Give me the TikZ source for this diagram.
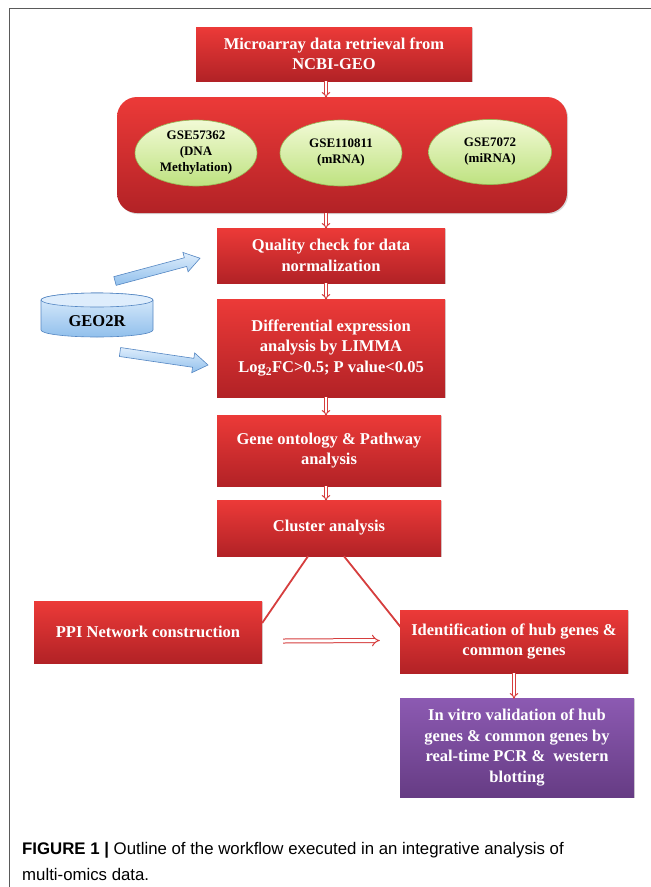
\documentclass[tikz,border=0pt]{standalone}
\usepackage{fontspec}
\setmainfont{Liberation Serif}
\setsansfont{Liberation Sans}
\usetikzlibrary{shadows,arrows.meta,calc,shapes.geometric}
\definecolor{redtop}{RGB}{236,58,56}
\definecolor{redbot}{RGB}{178,34,38}
\definecolor{purtop}{RGB}{140,90,178}
\definecolor{purbot}{RGB}{102,60,132}
\definecolor{grntop}{RGB}{242,250,214}
\definecolor{grnbot}{RGB}{190,226,128}
\definecolor{grnedge}{RGB}{150,185,85}
\definecolor{blutop}{RGB}{222,237,252}
\definecolor{blubot}{RGB}{145,192,236}
\definecolor{bluedge}{RGB}{85,135,195}
\definecolor{arrowred}{RGB}{214,62,62}
\definecolor{framecol}{RGB}{90,90,90}
\begin{document}
\begin{tikzpicture}[x=1pt,y=-1pt,
  redbox/.style={rectangle, top color=redtop, bottom color=redbot, draw=none,
    drop shadow={shadow xshift=1.2pt, shadow yshift=-1.2pt, opacity=0.3},
    text=white, font=\bfseries\fontsize{16.5}{20.5}\selectfont, align=center, inner sep=2pt},
  purbox/.style={redbox, top color=purtop, bottom color=purbot},
  oval/.style={ellipse, top color=grntop, bottom color=grnbot, draw=grnedge, line width=0.6pt,
    font=\bfseries\fontsize{13}{16}\selectfont, align=center, inner sep=0pt},
  dbl/.style={draw=arrowred, double=white, double distance=1.8pt, line width=1pt,
    -{Implies[length=4pt]}, shorten >=-1pt},
  dblwide/.style={draw=arrowred, double=white, double distance=3pt, line width=1pt, -{Implies}},
  branch/.style={draw=arrowred, line width=1.8pt},
  blockarrow/.style={draw=bluedge, line width=0.6pt, top color=blutop, bottom color=blubot},
]
\useasboundingbox (0,0) rectangle (651,887);
\fill[white] (0,0) rectangle (651,887);
\draw[framecol, line width=1pt] (9,887) -- (9,8) -- (651,8);

\coordinate (ax) at (326,0);

\node[redbox, minimum width=276pt, minimum height=54pt] (b1) at (334,54)
  {Microarray data retrieval from\\NCBI-GEO};
\node[redbox, rounded corners=20pt, minimum width=450pt, minimum height=116pt] (big) at (342,155) {};
\node[oval, minimum width=122pt, minimum height=66pt] (e1) at (196,153) {GSE57362\\(DNA\\Methylation)};
\node[oval, minimum width=122pt, minimum height=66pt] (e2) at (341,153) {GSE110811\\(mRNA)};
\node[oval, minimum width=123pt, minimum height=65pt] (e3) at (490,152) {GSE7072\\(miRNA)};

\node[redbox, minimum width=228pt, minimum height=55pt] (b2) at (331,255.5)
  {Quality check for data\\normalization};
\node[redbox, minimum width=228pt, minimum height=98pt] (b3) at (331,348)
  {Differential expression\\analysis by LIMMA\\Log\textsubscript{2}FC>0.5; P value<0.05};
\node[redbox, minimum width=224pt, minimum height=71pt] (b4) at (329,450.5)
  {Gene ontology \& Pathway\\analysis};
\node[redbox, minimum width=224pt, minimum height=56pt] (b5) at (329,528)
  {Cluster analysis};
\node[redbox, minimum width=228pt, minimum height=62pt] (ppi) at (148,632)
  {PPI Network construction};

\draw[branch] ($(b5.south)+(-21,0)$) -- ($(ppi.east)+(0,-9)$);
\draw[branch] ($(b5.south)+(15,0)$) -- (403,630);

\node[redbox, minimum width=228pt, minimum height=63pt] (ident) at (514,641.5)
  {Identification of hub genes \&\\common genes};
\node[purbox, minimum width=234pt, minimum height=99pt] (vitro) at (517,747.5)
  {In vitro validation of hub\\genes \& common genes by\\real-time PCR \&\ \ western\\blotting};

% vertical arrows
\draw[dbl] (b1.south -| ax) -- (big.north -| ax);
\draw[dbl] (big.south -| ax) -- (b2.north -| ax);
\draw[dbl] (b2.south -| ax) -- (b3.north -| ax);
\draw[dbl] (b3.south -| ax) -- (b4.north -| ax);
\draw[dbl] (b4.south -| ax) -- (b5.north -| ax);
\draw[dbl] (ident.south) -- (ident.south |- vitro.north);
\draw[dblwide] ($(ppi.east)+(21,9)$) -- ($(ident.west)+(-20,-1)$);

% GEO2R cylinder
\draw[blockarrow] (41,300) -- (41,330) arc[start angle=180, end angle=0, x radius=56, y radius=7]
  -- (153,300) arc[start angle=0, end angle=-180, x radius=56, y radius=7] -- cycle;
\draw[bluedge, line width=0.6pt, fill=blutop] (97,300) ellipse[x radius=56, y radius=7];
\node[font=\bfseries\fontsize{16.5}{20}\selectfont, inner sep=0pt] (geo) at (97,321) {GEO2R};

% block arrows
\draw[blockarrow, shift={(115,281)}, rotate=15]
  (0,-4.5) -- (73,-4.5) -- (73,-10) -- (88,0) -- (73,10) -- (73,4.5) -- (0,4.5) -- cycle;
\draw[blockarrow, shift={(120,352)}, rotate=-8.4]
  (0,-4.5) -- (74,-4.5) -- (74,-10) -- (89,0) -- (74,10) -- (74,4.5) -- (0,4.5) -- cycle;

% caption
\node[anchor=base west, inner sep=0pt, font=\sffamily\fontsize{16.8}{20}\selectfont] (cap1) at (22,854)
  {\textbf{FIGURE 1 |} Outline of the workflow executed in an integrative analysis of};
\node[anchor=base west, inner sep=0pt, font=\sffamily\fontsize{16.8}{20}\selectfont] (cap2) at (22,880)
  {multi-omics data.};
\end{tikzpicture}
\end{document}
